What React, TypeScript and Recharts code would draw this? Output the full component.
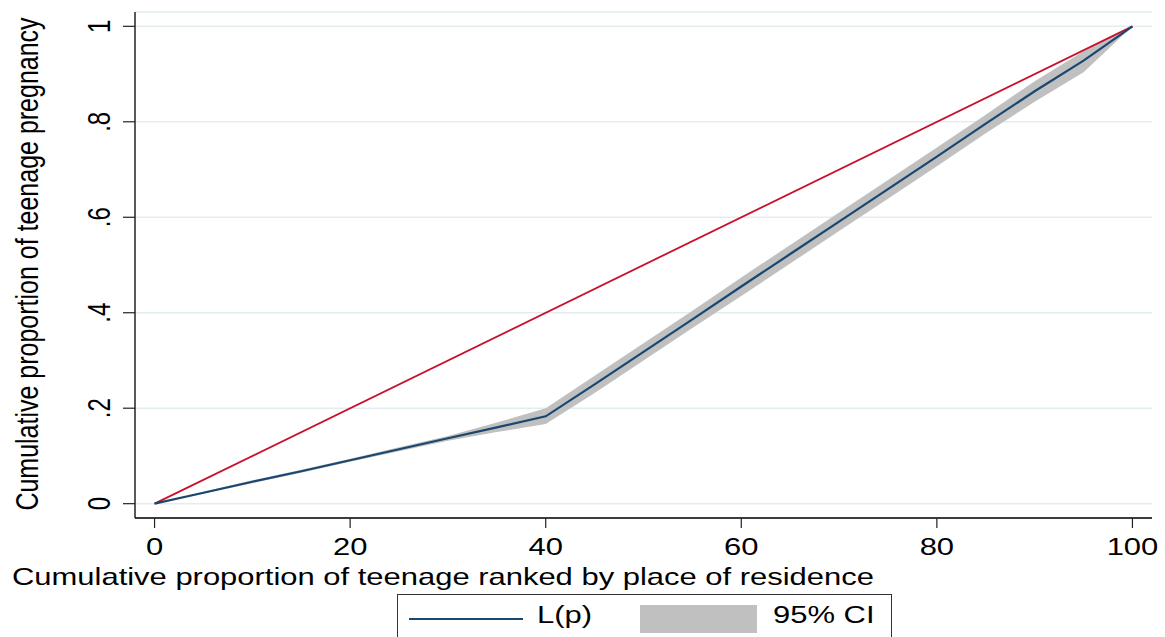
import {
  ComposedChart,
  Line,
  Area,
  XAxis,
  YAxis,
  CartesianGrid,
  Legend,
} from "recharts";

// cumulative share of teenagers (%), ranked by place of residence
const popShare = [0, 5, 10, 15, 20, 25, 30, 35, 40, 45, 50, 55, 60, 65, 70, 75, 80, 85, 90, 95, 100];
const lorenz = [0, 0.023, 0.046, 0.068, 0.091, 0.114, 0.137, 0.16, 0.183, 0.25, 0.318, 0.386, 0.455, 0.523, 0.591, 0.659, 0.727, 0.796, 0.864, 0.928, 1];
const ciLow = [0, 0.021, 0.043, 0.065, 0.088, 0.11, 0.132, 0.15, 0.167, 0.232, 0.3, 0.368, 0.435, 0.503, 0.571, 0.639, 0.707, 0.776, 0.842, 0.904, 1];
const ciHigh = [0, 0.025, 0.049, 0.071, 0.094, 0.118, 0.142, 0.17, 0.2, 0.268, 0.336, 0.404, 0.474, 0.542, 0.61, 0.678, 0.746, 0.815, 0.885, 0.948, 1];

// line of equality
const equalityP = [0, 100];
const equalityL = [0, 1];

const xTicks = [0, 20, 40, 60, 80, 100];
const yTicks = [0, 0.2, 0.4, 0.6, 0.8, 1];
const legendOrder = ["L(p)", "95% CI"];

const NAVY = "#1a476f";
const RED = "#c8102e";
const BAND = "#c0c0c0";
const GRID = "#e3edf1";
const FONT = "'Liberation Sans', Arial, Helvetica, sans-serif";
const STRETCH = 1.29;

const data = popShare.map((p, i) => ({
  p,
  L: lorenz[i],
  lo: ciLow[i],
  hi: ciHigh[i],
}));
const equality = equalityP.map((p, i) => ({ p, eq: equalityL[i] }));

const fmtY = (v: number) => (v === 0 ? "0" : v === 1 ? "1" : v.toFixed(1).replace(/^0/, ""));

function WideText({ x, y, rotate = false, anchor = "middle", size = 24, children }: any) {
  return (
    <text
      transform={`translate(${x},${y}) scale(${STRETCH},1)${rotate ? " rotate(-90)" : ""}`}
      textAnchor={anchor}
      fontSize={size}
      fontFamily={FONT}
      fill="#000"
    >
      {children}
    </text>
  );
}

function XTick({ x, y, payload }: any) {
  return (
    <WideText x={x} y={y + 27}>
      {payload.value}
    </WideText>
  );
}

function YTick({ x, y, payload }: any) {
  return (
    <WideText x={x - 13} y={y} rotate>
      {fmtY(payload.value)}
    </WideText>
  );
}

function LegendBox({ payload }: any) {
  const items = legendOrder
    .map((name) => (payload || []).find((p: any) => p.value === name))
    .filter(Boolean);
  return (
    <svg width={496} height={50} style={{ display: "block", overflow: "visible" }}>
      <rect x={0.5} y={0.5} width={494} height={60} fill="#fff" stroke="#333" strokeWidth={1} />
      {items.map((it: any, i: number) => {
        const ox = i * 243;
        const isLine = it.type === "line";
        return (
          <g key={it.value}>
            {isLine ? (
              <line x1={ox + 12} x2={ox + 126} y1={25} y2={25} stroke={it.color} strokeWidth={2} />
            ) : (
              <rect x={ox} y={11} width={117} height={28} fill={BAND} />
            )}
            <WideText x={ox + (isLine ? 140 : 133)} y={29} anchor="start">
              {it.value}
            </WideText>
          </g>
        );
      })}
    </svg>
  );
}

export default function App() {
  return (
    <div style={{ position: "absolute", left: 0, top: 0, background: "#fff" }}>
      <ComposedChart
        width={1165}
        height={637}
        data={data}
        margin={{ top: 12, right: 13, left: 0, bottom: 0 }}
      >
        <CartesianGrid vertical={false} stroke={GRID} strokeWidth={1.5} />
        <XAxis
          dataKey="p"
          type="number"
          domain={[-2, 102]}
          ticks={xTicks}
          height={119}
          tickSize={10}
          tickMargin={0}
          axisLine={{ stroke: "#000", strokeWidth: 1.3 }}
          tickLine={{ stroke: "#222", strokeWidth: 1.2 }}
          tick={<XTick />}
          allowDataOverflow
          label={{
            content: () => (
              <WideText x={12} y={585} anchor="start">
                Cumulative proportion of teenage ranked by place of residence
              </WideText>
            ),
          }}
        />
        <YAxis
          type="number"
          domain={[-0.03, 1.03]}
          ticks={yTicks}
          width={135}
          tickSize={12}
          tickMargin={0}
          axisLine={{ stroke: "#000", strokeWidth: 1.3 }}
          tickLine={{ stroke: "#222", strokeWidth: 1.2 }}
          tick={<YTick />}
          allowDataOverflow
          label={{
            content: () => (
              <WideText x={38} y={264} rotate size={25}>
                Cumulative proportion of teenage pregnancy
              </WideText>
            ),
          }}
        />
        <Line
          data={equality}
          dataKey="eq"
          name="equality"
          type="linear"
          stroke={RED}
          strokeWidth={1.8}
          dot={false}
          legendType="none"
          isAnimationActive={false}
        />
        <Area
          dataKey={(d: any) => [d.lo, d.hi]}
          name="95% CI"
          type="linear"
          stroke="none"
          fill={BAND}
          fillOpacity={1}
          legendType="square"
          isAnimationActive={false}
        />
        <Line
          dataKey="L"
          name="L(p)"
          type="linear"
          stroke={NAVY}
          strokeWidth={2.2}
          dot={false}
          legendType="line"
          isAnimationActive={false}
        />
        <Legend
          layout="vertical"
          align="center"
          verticalAlign="middle"
          content={<LegendBox />}
          wrapperStyle={{ left: 397, top: 594, width: 496, height: 50 }}
        />
      </ComposedChart>
    </div>
  );
}
